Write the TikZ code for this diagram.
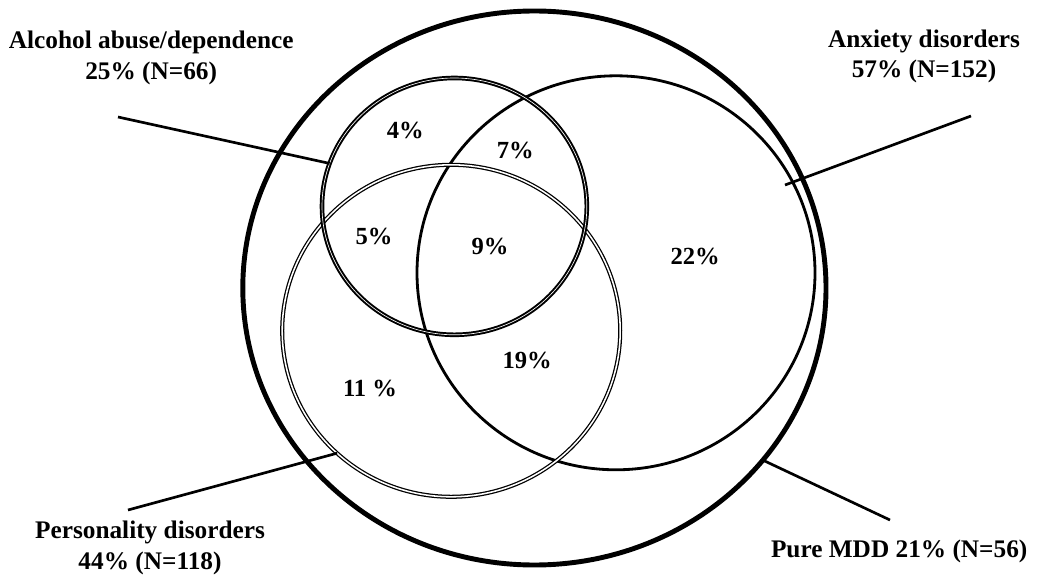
\documentclass[tikz,border=0pt]{standalone}
\usepackage{fontspec}
\setmainfont{Liberation Serif}
\usetikzlibrary{shapes.geometric}

\begin{document}
\begin{tikzpicture}[
  set/.style={draw,ellipse,inner sep=0pt,outer sep=0pt},
  title/.style={font=\fontsize{18}{21.5}\selectfont\bfseries,align=center},
  pct/.style={font=\fontsize{17.5}{20}\selectfont\bfseries},
  leader/.style={line width=1.9pt}]
\useasboundingbox (0,0) rectangle (26.05,14.4);

% the four sets
\node[set,line width=3.5pt,minimum width=14.58cm,minimum height=13.85cm] (MDD) at (13.36,7.2) {};
\node[set,line width=2pt,minimum width=9.95cm,minimum height=9.85cm] (Anx) at (15.4,7.58) {};
\node[set,double,line width=0.9pt,double distance=1.1pt,minimum width=8.45cm,minimum height=8.3cm] (Pers) at (11.28,6.13) {};
\node[set,double,line width=1.4pt,double distance=0.45pt,minimum width=6.62cm,minimum height=6.42cm] (Alc) at (11.36,9.24) {};

% titles
\node[title] (AlcT)  at (3.78,12.95) {Alcohol abuse/dependence\\25\% (N=66)};
\node[title] (AnxT)  at (23.1,12.99) {Anxiety disorders\\57\% (N=152)};
\node[title] (PersT) at (3.75,0.7)   {Personality disorders\\44\% (N=118)};
\node[title] (MDDT)  at (22.48,0.62) {Pure MDD 21\% (N=56)};

% leader ends
\coordinate (alcL)  at (2.95,11.475);
\coordinate (persL) at (3.2,1.65);
\coordinate (anxL)  at (24.275,11.5);
\coordinate (anxI)  at (19.625,9.775);
\coordinate (mddL)  at (22.25,1.4);

\draw[leader] (alcL) -- (Alc.161);
\draw[leader] (persL) -- (Pers.227);
\draw[leader] (anxL) -- (anxI);
\draw[leader] (mddL) -- (MDD.-37.8);

% region percentages
\node[pct] (p4)  at (10.13,11.15) {4\%};
\node[pct] (p7)  at (12.88,10.65) {7\%};
\node[pct] (p5)  at (9.35,8.5)    {5\%};
\node[pct] (p9)  at (12.25,8.25)  {9\%};
\node[pct] (p22) at (17.38,8.0)   {22\%};
\node[pct] (p19) at (13.18,5.4)   {19\%};
\node[pct] (p11) at (9.25,4.7)    {11 \%};
\end{tikzpicture}
\end{document}
